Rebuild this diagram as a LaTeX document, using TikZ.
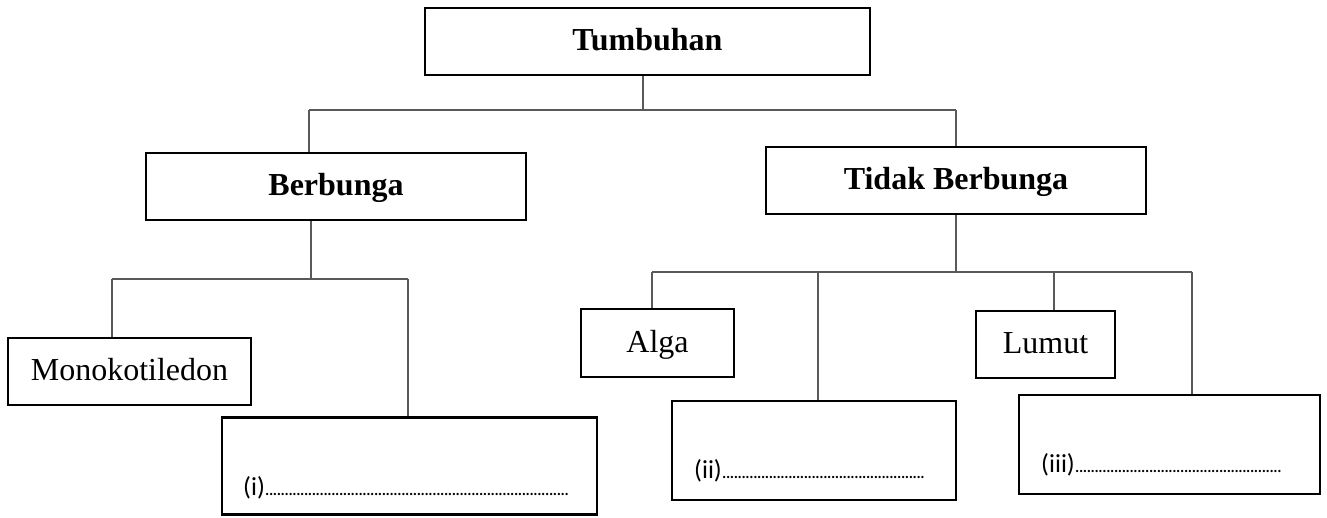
\documentclass[tikz,border=0pt]{standalone}
\usepackage{fontspec}
\setmainfont{Liberation Serif}
\newfontfamily\calib{Carlito}
\definecolor{linegray}{HTML}{595959}
\newcommand\mydots[1]{{\fontsize{19}{22}\selectfont\foreach \k in {1,...,#1}{.\kern-0.9pt}}}
\begin{document}
\begin{tikzpicture}[x=1pt,y=-1pt,
  box/.style={draw=black,line width=2.4pt,inner sep=0pt,text height=22pt,text depth=4pt,
    font=\fontsize{32}{38}\selectfont},
  boldbox/.style={box,font=\fontsize{32}{38}\selectfont\bfseries},
  emptybox/.style={draw=black,line width=2.4pt,inner sep=0pt},
  lbl/.style={inner sep=0pt,anchor=base west,font=\calib\fontsize{26}{30}\selectfont},
  conn/.style={draw=linegray,line width=2pt}]
\useasboundingbox (0,0) rectangle (1327,517);
% boxes
\node[boldbox,minimum width=445pt,minimum height=67pt] (tum) at (647.5,41.5) {Tumbuhan};
\node[boldbox,minimum width=380pt,minimum height=67pt] (ber) at (336,186.5) {Berbunga};
\node[boldbox,minimum width=380pt,minimum height=67pt] (tid) at (956,180.5) {Tidak Berbunga};
\node[box,minimum width=243pt,minimum height=67pt] (mono) at (129.5,371.5) {Monokotiledon};
\node[box,minimum width=153pt,minimum height=68pt] (alga) at (657.5,343) {Alga};
\node[box,minimum width=139pt,minimum height=67pt] (lumut) at (1045.5,344.5) {Lumut};
\node[emptybox,minimum width=375pt,minimum height=97pt] (bi) at (409.5,466) {};
\node[emptybox,minimum width=284pt,minimum height=99pt] (bii) at (814,450.5) {};
\node[emptybox,minimum width=301pt,minimum height=99pt] (biii) at (1169.5,444.5) {};
% labels in the empty boxes
\node[lbl] (ti) at (243,495) {(i)\mydots{78}};
\node[lbl] (tii) at (694,478) {(ii)\mydots{52}};
\node[lbl] (tiii) at (1041,472) {(iii)\mydots{53}};
% level 1 connectors
\coordinate (tstem) at (643,110);
\coordinate (bL) at (309,110);
\coordinate (bR) at (956,110);
\draw[conn] (tstem |- tum.south) -- (tstem);
\draw[conn] (bL) -- (bR);
\draw[conn] (bL) -- (bL |- ber.north);
\draw[conn] (bR) -- (tid.north);
% Berbunga connectors
\coordinate (cL) at (112,279);
\coordinate (cM) at (311,279);
\coordinate (cR) at (408,279);
\draw[conn] (cM |- ber.south) -- (cM);
\draw[conn] (cL) -- (cR);
\draw[conn] (cL) -- (cL |- mono.north);
\draw[conn] (cR) -- (cR |- bi.north);
% Tidak Berbunga connectors
\coordinate (dL) at (652,272);
\coordinate (d2) at (817.5,272);
\coordinate (d3) at (1054,272);
\coordinate (dR) at (1192,272);
\draw[conn] (tid.south) -- (tid.south |- dL);
\draw[conn] (dL) -- (dR);
\draw[conn] (dL) -- (dL |- alga.north);
\draw[conn] (d2) -- (d2 |- bii.north);
\draw[conn] (d3) -- (d3 |- lumut.north);
\draw[conn] (dR) -- (dR |- biii.north);
\end{tikzpicture}
\end{document}
